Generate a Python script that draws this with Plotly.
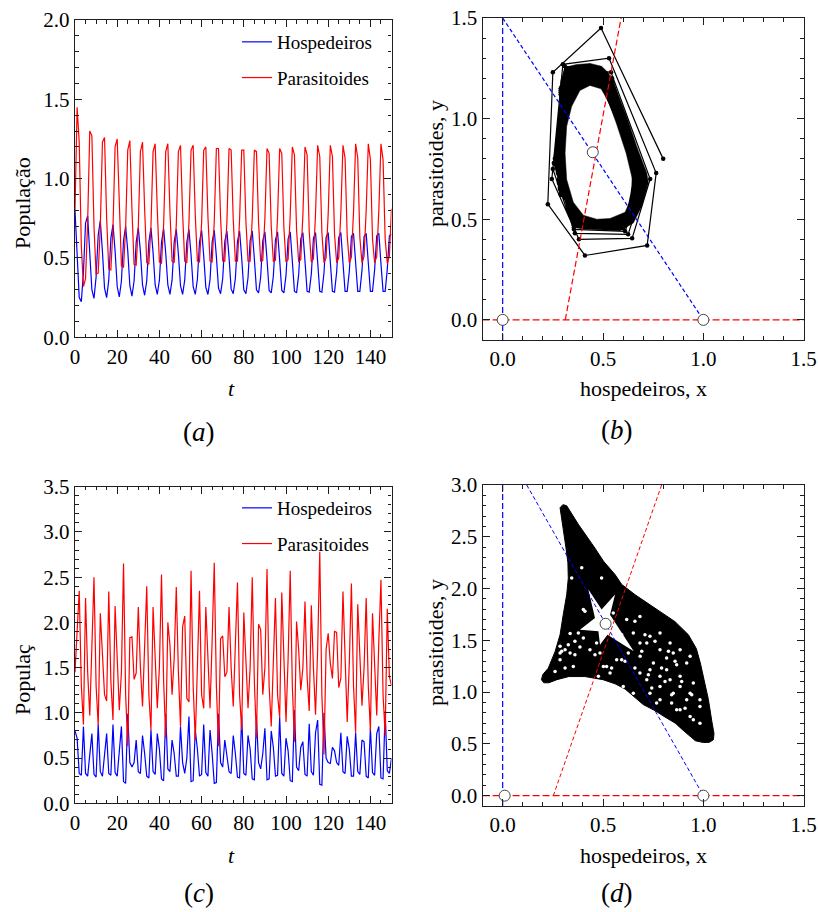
import plotly.graph_objects as go

FONT = "Liberation Serif, Times New Roman, serif"
FRAME = "#1e1e1e"

# ---------------- panel (a): time series, invariant circle regime ----------------
t_a = list(range(151))
host_a = [
    0.80, 0.49, 0.25, 0.225, 0.41, 0.72,
    0.765, 0.53, 0.30, 0.245, 0.38, 0.645,
    0.735, 0.54, 0.31, 0.25, 0.36, 0.625,
    0.71, 0.545, 0.32, 0.255, 0.355, 0.61,
    0.70, 0.545, 0.325, 0.26, 0.355, 0.60,
    0.69, 0.54, 0.33, 0.265, 0.355, 0.60,
    0.69, 0.535, 0.33, 0.27, 0.36, 0.60,
    0.685, 0.53, 0.33, 0.27, 0.36, 0.60,
    0.68, 0.525, 0.325, 0.27, 0.36, 0.60,
    0.68, 0.52, 0.32, 0.27, 0.365, 0.60,
    0.675, 0.515, 0.315, 0.27, 0.365, 0.60,
    0.675, 0.51, 0.31, 0.275, 0.37, 0.605,
    0.67, 0.505, 0.305, 0.275, 0.37, 0.605,
    0.67, 0.50, 0.30, 0.275, 0.375, 0.61,
    0.67, 0.495, 0.30, 0.28, 0.38, 0.61,
    0.665, 0.49, 0.295, 0.28, 0.385, 0.615,
    0.665, 0.485, 0.295, 0.28, 0.39, 0.62,
    0.665, 0.48, 0.29, 0.28, 0.395, 0.62,
    0.66, 0.48, 0.29, 0.285, 0.40, 0.625,
    0.66, 0.475, 0.29, 0.285, 0.405, 0.63,
    0.66, 0.475, 0.29, 0.285, 0.41, 0.63,
    0.66, 0.47, 0.29, 0.29, 0.415, 0.635,
    0.655, 0.47, 0.29, 0.29, 0.42, 0.635,
    0.655, 0.47, 0.29, 0.29, 0.425, 0.64,
    0.655, 0.465, 0.29, 0.29, 0.43, 0.64,
    0.65,
]
para_a = [
    0.80, 1.45, 1.23, 0.575, 0.32, 0.37,
    0.73, 1.30, 1.27, 0.70, 0.40, 0.405,
    0.70, 1.23, 1.26, 0.75, 0.43, 0.425,
    0.69, 1.20, 1.25, 0.78, 0.45, 0.44,
    0.69, 1.18, 1.24, 0.80, 0.46, 0.455,
    0.70, 1.17, 1.23, 0.81, 0.47, 0.46,
    0.70, 1.17, 1.22, 0.80, 0.475, 0.465,
    0.71, 1.17, 1.22, 0.79, 0.48, 0.47,
    0.71, 1.17, 1.21, 0.78, 0.48, 0.47,
    0.72, 1.18, 1.21, 0.77, 0.48, 0.475,
    0.72, 1.18, 1.20, 0.76, 0.48, 0.475,
    0.73, 1.19, 1.19, 0.75, 0.48, 0.48,
    0.73, 1.19, 1.18, 0.74, 0.48, 0.48,
    0.74, 1.18, 1.18, 0.73, 0.48, 0.48,
    0.75, 1.18, 1.17, 0.72, 0.48, 0.485,
    0.75, 1.19, 1.16, 0.70, 0.48, 0.485,
    0.76, 1.19, 1.16, 0.69, 0.475, 0.49,
    0.77, 1.20, 1.15, 0.68, 0.475, 0.49,
    0.77, 1.20, 1.15, 0.67, 0.475, 0.495,
    0.78, 1.21, 1.14, 0.66, 0.47, 0.50,
    0.78, 1.21, 1.14, 0.65, 0.47, 0.50,
    0.79, 1.21, 1.13, 0.64, 0.47, 0.505,
    0.79, 1.22, 1.13, 0.63, 0.47, 0.51,
    0.80, 1.22, 1.12, 0.62, 0.47, 0.51,
    0.80, 1.22, 1.12, 0.62, 0.465, 0.515,
    0.81,
]

# ---------------- panel (c): time series, chaotic regime ----------------
t_c = list(range(151))
host_c = [
    0.80, 0.72, 0.33, 0.31, 0.85, 0.33, 0.30, 0.56, 0.77, 0.32,
    0.29, 0.87, 0.35, 0.30, 0.52, 0.77, 0.33, 0.31, 0.87, 0.34,
    0.30, 0.60, 0.85, 0.24, 0.22, 0.99, 0.45, 0.40, 0.45, 0.70,
    0.35, 0.33, 0.75, 0.55, 0.30, 0.28, 0.81, 0.35, 0.32, 0.77,
    0.60, 0.27, 0.25, 0.99, 0.38, 0.35, 0.70, 0.55, 0.30, 0.30,
    0.85, 0.45, 0.33, 0.50, 0.96, 0.24, 0.25, 0.81, 0.60, 0.30,
    0.32, 0.87, 0.34, 0.30, 0.81, 0.55, 0.22, 0.23, 0.99, 0.45,
    0.40, 0.70, 0.50, 0.35, 0.33, 0.75, 0.55, 0.29, 0.28, 0.97,
    0.33, 0.31, 0.75, 0.60, 0.27, 0.26, 0.94, 0.45, 0.38, 0.55,
    0.83, 0.26, 0.27, 0.80, 0.62, 0.30, 0.31, 0.95, 0.33, 0.30,
    0.72, 0.58, 0.25, 0.24, 1.03, 0.40, 0.36, 0.62, 0.68, 0.32,
    0.30, 0.88, 0.35, 0.31, 0.78, 0.92, 0.21, 0.20, 1.00, 0.50,
    0.45, 0.44, 0.62, 0.58, 0.45, 0.42, 0.78, 0.35, 0.33, 0.74,
    0.60, 0.30, 0.30, 0.78, 0.35, 0.32, 0.70, 0.68, 0.30, 0.28,
    0.83, 0.34, 0.31, 0.77, 0.85, 0.28, 0.27, 1.02, 0.36, 0.33,
    0.50,
]
para_c = [
    1.45, 1.95, 2.35, 1.30, 0.87, 2.27, 1.45, 0.97, 1.70, 2.50,
    1.30, 0.86, 2.10, 1.60, 1.20, 1.13, 2.34, 1.35, 0.92, 2.18,
    1.55, 1.03, 1.45, 2.65, 1.20, 0.63, 1.83, 1.84, 1.37, 1.44,
    2.17, 1.50, 1.07, 1.70, 2.40, 1.20, 0.81, 2.17, 1.55, 1.05,
    1.50, 2.53, 1.35, 0.72, 2.00, 1.75, 1.20, 1.60, 2.39, 1.45,
    0.85, 1.95, 2.07, 1.16, 1.12, 2.57, 1.30, 0.70, 1.50, 2.35,
    1.20, 1.05, 2.17, 1.55, 1.05, 1.80, 2.66, 1.30, 0.63, 1.82,
    1.85, 1.40, 1.45, 2.17, 1.50, 1.07, 1.70, 2.44, 1.20, 0.81,
    2.11, 1.55, 1.05, 1.50, 2.50, 1.35, 0.72, 1.98, 1.92, 1.20,
    1.50, 2.59, 1.30, 0.85, 1.60, 2.27, 1.20, 0.95, 2.33, 1.50,
    0.90, 1.60, 2.57, 1.30, 0.68, 2.01, 1.70, 1.25, 1.50, 2.23,
    1.40, 1.02, 2.19, 1.50, 0.98, 1.70, 2.78, 1.20, 0.54, 1.70,
    1.88, 1.55, 1.38, 1.90, 1.89, 1.28, 1.38, 2.34, 1.50, 0.90,
    1.55, 2.43, 1.30, 0.78, 2.20, 1.60, 1.08, 1.50, 2.27, 1.30,
    0.80, 2.10, 1.60, 0.97, 1.80, 2.47, 1.20, 0.75, 2.15, 1.40,
    1.30,
]

# ---------------- panel (b): dense band of the invariant circle ----------------
band_outer_x = [0.435, 0.493, 0.527, 0.560, 0.618, 0.668, 0.718, 0.726, 0.693, 0.651,
                0.585, 0.485, 0.40, 0.36, 0.33, 0.30, 0.283, 0.277, 0.278, 0.283, 0.29, 0.31, 0.369]
band_outer_y = [1.274, 1.260, 1.227, 1.161, 1.011, 0.862, 0.730, 0.680, 0.564, 0.481,
                0.443, 0.448, 0.452, 0.46, 0.54, 0.63, 0.72, 0.80, 0.95, 1.08, 1.19, 1.255, 1.269]
band_inner_x = [0.435, 0.385, 0.344, 0.319, 0.311, 0.319, 0.352, 0.402, 0.469, 0.535,
                0.610, 0.645, 0.647, 0.615, 0.566, 0.525, 0.490]
band_inner_y = [1.165, 1.140, 1.061, 0.962, 0.829, 0.697, 0.585, 0.520, 0.500, 0.504,
                0.535, 0.613, 0.697, 0.829, 0.978, 1.090, 1.148]

# nullclines and fixed points, panel (b)
b_host_vert_x = [0.0, 0.0]
b_host_vert_y = [-0.1, 1.5]
b_host_slope_x = [0.0, 1.0]
b_host_slope_y = [1.5, 0.0]
b_para_horiz_x = [-0.1, 1.5]
b_para_horiz_y = [0.0, 0.0]
b_para_slope_x = [0.312, 0.59]
b_para_slope_y = [0.0, 1.5]
b_fixed_x = [0.0, 1.0, 0.449]
b_fixed_y = [0.0, 0.0, 0.833]

# ---------------- panel (d): chaotic attractor ----------------
attr_x = [0.286, 0.300, 0.319, 0.377, 0.460, 0.502, 0.560, 0.593, 0.66, 0.759, 0.859, 0.925,
          0.965, 0.985, 1.000, 1.025, 1.042, 1.053, 1.050, 1.030, 1.000, 0.96,
          0.90, 0.86, 0.80, 0.76, 0.70, 0.66, 0.61, 0.56, 0.50, 0.41, 0.33, 0.27, 0.23, 0.205,
          0.193, 0.20, 0.227, 0.261, 0.286, 0.302, 0.319, 0.327, 0.325, 0.315, 0.302, 0.29]
attr_y = [2.78, 2.81, 2.80, 2.62, 2.39, 2.265, 2.135, 2.04, 1.94, 1.81, 1.68, 1.555,
          1.42, 1.28, 1.15, 0.93, 0.72, 0.60, 0.54, 0.515, 0.513, 0.53,
          0.63, 0.70, 0.77, 0.82, 0.88, 0.95, 1.03, 1.08, 1.12, 1.15, 1.15, 1.12, 1.09, 1.09,
          1.12, 1.17, 1.23, 1.39, 1.555, 1.75, 1.94, 2.10, 2.25, 2.40, 2.59, 2.72]
gap_x = [0.427, 0.493, 0.560, 0.535, 0.653, 0.522, 0.485, 0.477, 0.385, 0.460]
gap_y = [1.99, 1.797, 1.942, 1.748, 1.394, 1.555, 1.458, 1.587, 1.603, 1.716]
speck_x = [0.659, 0.709, 0.759, 0.826, 0.859, 0.792, 0.726, 0.659, 0.892, 0.942, 0.842, 0.743,
           0.344, 0.394, 0.327, 0.360, 0.294, 0.493, 0.410, 0.261, 0.311, 0.593, 0.693, 0.909,
           0.809, 0.610, 0.460, 0.543, 0.402, 0.336, 0.385, 0.286, 0.585, 0.651, 0.718, 0.784,
           0.850, 0.917, 0.685, 0.751, 0.817, 0.884, 0.950, 0.718, 0.784, 0.850, 0.917, 0.983,
           0.767, 0.867, 0.950, 0.518, 0.568, 0.485, 0.352, 0.618, 0.684, 0.551,
           0.377, 0.402, 0.360, 0.311, 0.286, 0.261, 0.435, 0.468, 0.502, 0.535, 0.477,
           0.593, 0.626, 0.684, 0.734, 0.784, 0.834, 0.884, 0.934, 0.817, 0.867, 0.684,
           0.734, 0.784, 0.834, 0.884, 0.934, 0.983, 0.734, 0.784, 0.842, 0.884, 0.934,
           0.983, 0.601, 0.651, 0.286, 0.336]
speck_y = [1.684, 1.555, 1.490, 1.394, 1.297, 1.232, 1.168, 1.232, 1.103, 0.974, 0.974, 1.039,
           2.103, 2.200, 1.458, 1.361, 1.394, 2.103, 1.781, 1.555, 1.232, 1.555, 1.394, 0.845,
           1.103, 1.297, 1.361, 1.232, 1.797, 1.565, 1.435, 1.377, 1.506, 1.571, 1.474, 1.410,
           1.377, 1.281, 1.345, 1.281, 1.216, 1.152, 1.087, 1.119, 1.055, 0.990, 0.926, 0.861,
           0.894, 0.829, 0.732, 1.248, 1.313, 1.377, 1.248, 1.700, 1.730, 1.765,
           1.571, 1.523, 1.490, 1.410, 1.313, 1.200, 1.410, 1.474, 1.248, 1.184, 1.152,
           1.313, 1.377, 1.474, 1.539, 1.571, 1.474, 1.410, 1.345, 1.329, 1.265, 1.184,
           1.216, 1.152, 1.119, 1.055, 0.990, 0.926, 0.990, 0.926, 0.894, 0.829, 0.765,
           0.700, 1.055, 0.990, 1.442, 1.377]

d_host_vert_x = [0.0, 0.0]
d_host_vert_y = [-0.1, 3.0]
d_host_slope_x = [0.12, 1.0]
d_host_slope_y = [3.0, 0.0]
d_para_horiz_x = [-0.1, 1.5]
d_para_horiz_y = [0.0, 0.0]
d_para_slope_x = [0.2525, 0.792]
d_para_slope_y = [0.0, 3.0]
d_fixed_x = [0.01, 1.0, 0.513]
d_fixed_y = [0.0, 0.0, 1.66]

BLUE = "#0000ff"
RED = "#ff0000"

fig = go.Figure()

# (a)
fig.add_trace(go.Scatter(x=t_a, y=host_a, mode="lines", name="Hospedeiros",
                         line=dict(color=BLUE, width=1.2), xaxis="x", yaxis="y",
                         legend="legend", legendgroup="h1"))
fig.add_trace(go.Scatter(x=t_a, y=para_a, mode="lines", name="Parasitoides",
                         line=dict(color=RED, width=1.2), xaxis="x", yaxis="y",
                         legend="legend", legendgroup="p1"))

# (c)
fig.add_trace(go.Scatter(x=t_c, y=host_c, mode="lines", name="Hospedeiros",
                         line=dict(color=BLUE, width=1.2), xaxis="x3", yaxis="y3",
                         legend="legend2", legendgroup="h2"))
fig.add_trace(go.Scatter(x=t_c, y=para_c, mode="lines", name="Parasitoides",
                         line=dict(color=RED, width=1.2), xaxis="x3", yaxis="y3",
                         legend="legend2", legendgroup="p2"))

# (b) band
ring_x = band_outer_x + [band_outer_x[0]] + band_inner_x + [band_inner_x[0], band_outer_x[0]]
ring_y = band_outer_y + [band_outer_y[0]] + band_inner_y + [band_inner_y[0], band_outer_y[0]]
fig.add_trace(go.Scatter(x=ring_x, y=ring_y, mode="lines", fill="toself", fillcolor="black",
                         line=dict(color="black", width=0.5), xaxis="x2", yaxis="y2",
                         showlegend=False, hoverinfo="skip"))
fig.add_trace(go.Scatter(x=host_a, y=para_a, mode="lines+markers",
                         line=dict(color="black", width=1.2),
                         marker=dict(color="black", size=4.5),
                         xaxis="x2", yaxis="y2", showlegend=False))


def dashed(xs, ys, color, dash, ax, ay, width=1.2):
    fig.add_trace(go.Scatter(x=xs, y=ys, mode="lines",
                             line=dict(color=color, width=width, dash=dash),
                             xaxis=ax, yaxis=ay, showlegend=False, hoverinfo="skip"))


dashed(b_host_vert_x, b_host_vert_y, BLUE, "6px,3px", "x2", "y2")
dashed(b_host_slope_x, b_host_slope_y, BLUE, "4px,2.5px", "x2", "y2")
dashed(b_para_horiz_x, b_para_horiz_y, RED, "7px,3px", "x2", "y2")
dashed(b_para_slope_x, b_para_slope_y, RED, "6px,3px", "x2", "y2")
fig.add_trace(go.Scatter(x=b_fixed_x, y=b_fixed_y, mode="markers",
                         marker=dict(color="white", size=11, line=dict(color="#444", width=1)),
                         xaxis="x2", yaxis="y2", showlegend=False))

# (d)
fig.add_trace(go.Scatter(x=attr_x + [attr_x[0]], y=attr_y + [attr_y[0]], mode="lines",
                         fill="toself", fillcolor="black", line=dict(color="black", width=1),
                         xaxis="x4", yaxis="y4", showlegend=False, hoverinfo="skip"))
fig.add_trace(go.Scatter(x=gap_x + [gap_x[0]], y=gap_y + [gap_y[0]], mode="lines",
                         fill="toself", fillcolor="white", line=dict(color="white", width=0),
                         xaxis="x4", yaxis="y4", showlegend=False, hoverinfo="skip"))
fig.add_trace(go.Scatter(x=speck_x, y=speck_y, mode="markers",
                         marker=dict(color="white", size=3.5),
                         xaxis="x4", yaxis="y4", showlegend=False, hoverinfo="skip"))
dashed(d_host_vert_x, d_host_vert_y, BLUE, "6px,3px", "x4", "y4")
dashed(d_host_slope_x, d_host_slope_y, BLUE, "4px,2.5px", "x4", "y4", 1.0)
dashed(d_para_horiz_x, d_para_horiz_y, RED, "7px,3px", "x4", "y4")
dashed(d_para_slope_x, d_para_slope_y, RED, "4px,2.5px", "x4", "y4", 1.0)
fig.add_trace(go.Scatter(x=d_fixed_x, y=d_fixed_y, mode="markers",
                         marker=dict(color="white", size=11, line=dict(color="#444", width=1)),
                         xaxis="x4", yaxis="y4", showlegend=False))

W, H = 818, 912


def px_x(p):
    return p / W


def px_y(p):
    return 1 - p / H


def axis(rng, dtick, minor, fmt, domain, anchor):
    return dict(range=rng, tickmode="linear", tick0=0, dtick=dtick,
                minor=dict(dtick=minor, ticks="inside", ticklen=3.5, tickwidth=1,
                           tickcolor=FRAME),
                ticks="inside", ticklen=7, tickwidth=1, tickcolor=FRAME,
                showline=True, linecolor=FRAME, linewidth=1.4, mirror="allticks",
                showgrid=False, zeroline=False, tickformat=fmt,
                tickfont=dict(family=FONT, size=21, color="black"),
                domain=domain, anchor=anchor, fixedrange=True, automargin=False)


dom_left = [px_x(75), px_x(391.5)]
dom_right = [px_x(482.6), px_x(803.7)]
fig.update_layout(
    width=W, height=H, margin=dict(l=0, r=0, t=0, b=0, pad=0, autoexpand=False),
    autosize=False,
    paper_bgcolor="white", plot_bgcolor="white",
    xaxis=axis([0, 150], 20, 5, "d", dom_left, "y"),
    yaxis=axis([0, 2.0], 0.5, 0.1, ".1f", [px_y(337.3), px_y(20)], "x"),
    xaxis2=axis([-0.1, 1.5], 0.5, 0.1, ".1f", dom_right, "y2"),
    yaxis2=axis([-0.1, 1.5], 0.5, 0.1, ".1f", [px_y(340), px_y(18)], "x2"),
    xaxis3=axis([0, 150], 20, 5, "d", dom_left, "y3"),
    yaxis3=axis([0, 3.5], 0.5, 0.1, ".1f", [px_y(803.3), px_y(486.7)], "x3"),
    xaxis4=axis([-0.1, 1.5], 0.5, 0.1, ".1f", dom_right, "y4"),
    yaxis4=axis([-0.1, 3.0], 0.5, 0.1, ".1f", [px_y(806), px_y(485)], "x4"),
    legend=dict(x=px_x(237), y=px_y(23), xanchor="left", yanchor="top",
                bgcolor="rgba(0,0,0,0)", font=dict(family=FONT, size=19, color="black"),
                traceorder="grouped", tracegroupgap=8),
    legend2=dict(x=px_x(237), y=px_y(489), xanchor="left", yanchor="top",
                 bgcolor="rgba(0,0,0,0)", font=dict(family=FONT, size=19, color="black"),
                 traceorder="grouped", tracegroupgap=8),
    showlegend=True,
)


def label(text, x, y, size=21, angle=0):
    fig.add_annotation(text=text, x=px_x(x), y=px_y(y), xref="paper", yref="paper",
                       xanchor="center", yanchor="middle", showarrow=False, textangle=angle,
                       font=dict(family=FONT, size=size, color="black"))


label("População", 22, 203, size=22, angle=-90)
label("<i>t</i>", 232, 388, size=22)
label("(<i>a</i>)", 199, 432, size=27)
label("parasitoides, y", 435, 164, size=22, angle=-90)
label("hospedeiros, x", 643, 388, size=22)
label("(<i>b</i>)", 617, 430, size=27)
label("Populaç", 22, 680, size=22, angle=-90)
label("<i>t</i>", 232, 855, size=22)
label("(<i>c</i>)", 199, 893, size=27)
label("parasitoides, y", 435, 643, size=22, angle=-90)
label("hospedeiros, x", 643, 855, size=22)
label("(<i>d</i>)", 617, 893, size=27)

fig.write_html("out.html", config={"responsive": False, "displayModeBar": False},
               post_script="document.body.style.margin='0px';"
                           "document.body.style.overflow='hidden';")
